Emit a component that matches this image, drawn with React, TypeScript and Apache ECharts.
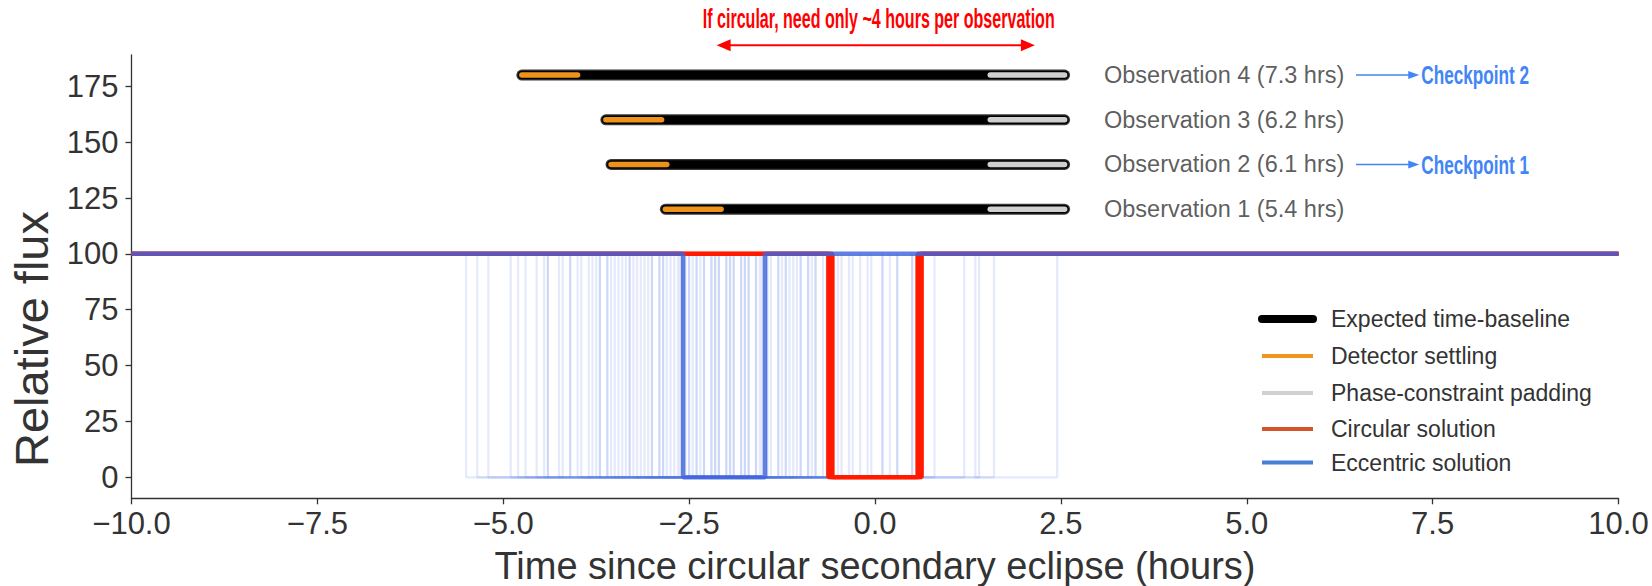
import React, { useEffect, useRef } from 'react';
import * as echarts from 'echarts';

// ---------- data ----------
const xTicks = [-10, -7.5, -5, -2.5, 0, 2.5, 5, 7.5, 10];
const yTicks = [0, 25, 50, 75, 100, 125, 150, 175];

const obsNames = ['Observation 1', 'Observation 2', 'Observation 3', 'Observation 4'];
const obsHours = [5.4, 6.1, 6.2, 7.3];
const obsLevel = [120, 140, 160, 180];
const obsStart = [-2.82, -3.55, -3.62, -4.75];
const obsEnd = [2.55, 2.55, 2.55, 2.55];
const settleEnd = [-2.07, -2.8, -2.87, -4.0];
const paddingStart = [1.55, 1.55, 1.55, 1.55];

const checkpointNames = ['Checkpoint 1', 'Checkpoint 2'];
const checkpointLevel = [140, 180];

const fluxOut = 100;
const fluxIn = 0;

// circular solution (small timing spread)
const circIngress = [-0.63, -0.6, -0.57];
const circEgress = [0.57, 0.6, 0.63];

// best eccentric solution
const eccIngress = -2.58;
const eccEgress = -1.48;

// eccentric posterior samples
const sampleIngress = [-5.5, -5.35, -4.9, -4.7, -4.55, -4.4, -4.25, -4.1, -3.95, -3.85, -3.7, -3.6, -3.5, -3.4, -3.3, -3.2, -3.1, -3.0, -2.9, -2.8, -2.7, -2.62, -2.5, -2.4, -2.3, -2.2, -2.1, -2.0, -1.9, -1.8, -1.7, -1.6, -1.45, -1.3, -1.15, -1.0, -0.8, -0.6, -0.3, 0.1, 0.5, 1.35,
  -5.2, -4.8, -4.45, -4.0, -3.75, -3.55, -3.25, -3.05, -2.85, -2.55, -2.35, -2.15, -1.95, -1.75, -1.55, -1.2, -0.9, 0.3];
const sampleEgress = [-4.4, -4.2, -3.8, -3.6, -3.45, -3.3, -3.15, -3.0, -2.85, -2.75, -2.6, -2.5, -2.4, -2.3, -2.2, -2.1, -2.0, -1.9, -1.8, -1.7, -1.6, -1.52, -1.4, -1.3, -1.2, -1.1, -1.0, -0.9, -0.8, -0.7, -0.6, -0.5, -0.35, -0.2, -0.05, 0.1, 0.3, 0.5, 0.8, 1.2, 1.6, 2.45,
  -4.1, -3.7, -3.35, -2.9, -2.65, -2.45, -2.15, -1.95, -1.75, -1.45, -1.25, -1.05, -0.85, -0.65, -0.45, -0.1, 0.2, 1.4];

const arrowSpan = [-2.13, 2.15];
const arrowLevel = 193.4;
const annotText = 'If circular, need only ~4 hours per observation';

const legendLabels = ['Expected time-baseline', 'Detector settling', 'Phase-constraint padding', 'Circular solution', 'Eccentric solution'];
const legendColors = ['#000000', '#f0941c', '#d0d0d0', '#d6542c', '#4a7fd6'];

const X_MIN = -10, X_MAX = 10;
const FONT = '"Liberation Sans", Arial, sans-serif';
const COND_FONT = 'bold 27px "Liberation Sans", Arial, sans-serif';
const CP_FONT = 'bold 25px "Liberation Sans", Arial, sans-serif';

function stepCurve(ing: number, egr: number) {
  return [[X_MIN, fluxOut], [ing, fluxOut], [ing, fluxIn], [egr, fluxIn], [egr, fluxOut], [X_MAX, fluxOut]];
}
function dipOnly(ing: number, egr: number) {
  return [[ing, fluxOut], [ing, fluxIn], [egr, fluxIn], [egr, fluxOut]];
}
function measure(text: string, font: string) {
  const c = document.createElement('canvas').getContext('2d');
  if (!c) return text.length * 10;
  c.font = font;
  return c.measureText(text).width;
}

export default function App() {
  const ref = useRef<HTMLDivElement>(null);
  useEffect(() => {
    document.body.style.margin = '0';
    const chart = echarts.init(ref.current!, null, { renderer: 'svg' });
    const series: any[] = [];

    sampleIngress.forEach((ing, i) => {
      series.push({
        type: 'line', data: dipOnly(ing, sampleEgress[i]), showSymbol: false, symbol: 'none', z: 1,
        lineStyle: { color: '#4169e1', width: 2.2, opacity: 0.14 }, silent: true,
      });
    });
    circIngress.forEach((ing, i) => {
      series.push({
        type: 'line', data: stepCurve(ing, circEgress[i]), symbol: 'none', z: 2,
        lineStyle: { color: '#ff1a00', width: 4 }, silent: true,
      });
    });
    series.push({
      type: 'line', data: stepCurve(eccIngress, eccEgress), symbol: 'none', z: 3,
      lineStyle: { color: '#3f63dc', width: 4.5, opacity: 0.82 }, silent: true,
    });

    obsNames.forEach((_, i) => {
      const lvl = obsLevel[i];
      series.push({
        type: 'line', data: [[obsStart[i], lvl], [obsEnd[i], lvl]], symbol: 'none', z: 4,
        lineStyle: { color: '#3a3a3a', width: 11, cap: 'round' }, silent: true,
      });
      series.push({
        type: 'line', data: [[obsStart[i], lvl], [obsEnd[i], lvl]], symbol: 'none', z: 5,
        lineStyle: { color: '#000000', width: 8.5, cap: 'round' }, silent: true,
      });
      series.push({
        type: 'line', data: [[obsStart[i], lvl], [settleEnd[i], lvl]], symbol: 'none', z: 6,
        lineStyle: { color: '#ef921a', width: 5.5, cap: 'round' }, silent: true,
      });
      series.push({
        type: 'line', data: [[paddingStart[i], lvl], [obsEnd[i], lvl]], symbol: 'none', z: 6,
        lineStyle: { color: '#cfcfcf', width: 5.5, cap: 'round' }, silent: true,
      });
    });

    series.push({
      type: 'scatter', symbolSize: 0, z: 7, silent: true,
      data: obsNames.map((n, i) => ({
        value: [3.08, obsLevel[i]],
        label: { formatter: `${n} (${obsHours[i].toFixed(1)} hrs)` },
      })),
      label: { show: true, position: 'right', distance: 0, color: '#333333', fontSize: 23.5, fontFamily: FONT },
    });

    chart.setOption({
      animation: false,
      backgroundColor: '#ffffff',
      grid: { left: 131.5, right: 33.5, top: 55, bottom: 87.7, containLabel: false, outerBoundsMode: 'none' },
      xAxis: {
        type: 'value', min: X_MIN, max: X_MAX, interval: 2.5,
        axisLine: { show: true, onZero: false, lineStyle: { color: '#333333', width: 1.3 } },
        axisTick: { show: true, length: 6, lineStyle: { color: '#333333', width: 1.3 } },
        splitLine: { show: false },
        axisLabel: {
          color: '#333333', fontSize: 31, fontFamily: FONT, margin: 10,
          formatter: (v: number) => v.toFixed(1).replace('-', '\u2212'),
        },
        name: 'Time since circular secondary eclipse (hours)',
        nameLocation: 'middle', nameGap: 50,
        nameTextStyle: { color: '#333333', fontSize: 38, lineHeight: 36, fontFamily: FONT },
      },
      yAxis: {
        type: 'value', min: -9.4, max: 189,
        axisLine: { show: true, onZero: false, lineStyle: { color: '#333333', width: 1.3 } },
        axisTick: { show: true, length: 6, customValues: yTicks, lineStyle: { color: '#333333', width: 1.3 } },
        splitLine: { show: false },
        axisLabel: { color: '#333333', fontSize: 31, fontFamily: FONT, margin: 13, customValues: yTicks },
      },
      series,
    });

    const px = (x: number, y: number) => chart.convertToPixel({ xAxisIndex: 0, yAxisIndex: 0 }, [x, y]) as number[];
    const g: any[] = [];
    const arrowHead = (tip: number[], dir: number, color: string, len: number, half: number) => ({
      type: 'polygon', z: 20,
      shape: { points: [[tip[0], tip[1]], [tip[0] - dir * len, tip[1] - half], [tip[0] - dir * len, tip[1] + half]] },
      style: { fill: color },
    });

    // red annotation
    const a0 = px(arrowSpan[0], arrowLevel);
    const a1 = px(arrowSpan[1], arrowLevel);
    g.push({ type: 'line', z: 20, shape: { x1: a0[0] + 6, y1: a0[1], x2: a1[0] - 6, y2: a1[1] }, style: { stroke: '#ff0000', lineWidth: 2 } });
    g.push(arrowHead(a0, -1, '#ff0000', 14, 6));
    g.push(arrowHead(a1, 1, '#ff0000', 14, 6));
    const tc = px((arrowSpan[0] + arrowSpan[1]) / 2, 205.1);
    const annotScale = 352 / measure(annotText, COND_FONT);
    g.push({
      type: 'text', z: 20, x: tc[0] + 3, y: tc[1], scaleX: annotScale,
      style: { text: annotText, fill: '#ff0000', font: COND_FONT, align: 'center', verticalAlign: 'middle' },
    });

    // checkpoints
    const cpScale = 108 / measure('Checkpoint 2', CP_FONT);
    checkpointNames.forEach((n, i) => {
      const s = px(6.47, checkpointLevel[i]);
      const e = px(7.32, checkpointLevel[i]);
      g.push({ type: 'line', z: 20, shape: { x1: s[0], y1: s[1], x2: e[0] - 8, y2: e[1] }, style: { stroke: '#4285f4', lineWidth: 1.5 } });
      g.push(arrowHead(e, 1, '#4285f4', 11, 4));
      g.push({
        type: 'text', z: 20, x: e[0] + 2, y: e[1] + 1, scaleX: cpScale,
        style: { text: n, fill: '#4285f4', font: CP_FONT, align: 'left', verticalAlign: 'middle' },
      });
    });

    // y-axis title
    g.push({
      type: 'text', z: 20, x: 31.6, y: 339, rotation: Math.PI / 2,
      style: { text: 'Relative flux', fill: '#333333', font: `47px ${FONT}`, align: 'center', verticalAlign: 'middle' },
    });

    // legend
    const rows = [319, 356, 393, 429, 462.5];
    legendLabels.forEach((l, i) => {
      const y = rows[i];
      g.push({
        type: 'line', z: 20, shape: { x1: 1262, y1: y, x2: 1313, y2: y },
        style: { stroke: legendColors[i], lineWidth: i === 0 ? 8 : 4, lineCap: i === 0 ? 'round' : 'butt' },
      });
      g.push({
        type: 'text', z: 20, x: 1331, y,
        style: { text: l, fill: '#333333', font: `23px ${FONT}`, align: 'left', verticalAlign: 'middle' },
      });
    });

    chart.setOption({ graphic: g });
    return () => chart.dispose();
  }, []);
  return <div ref={ref} style={{ width: 1652, height: 586 }} />;
}
